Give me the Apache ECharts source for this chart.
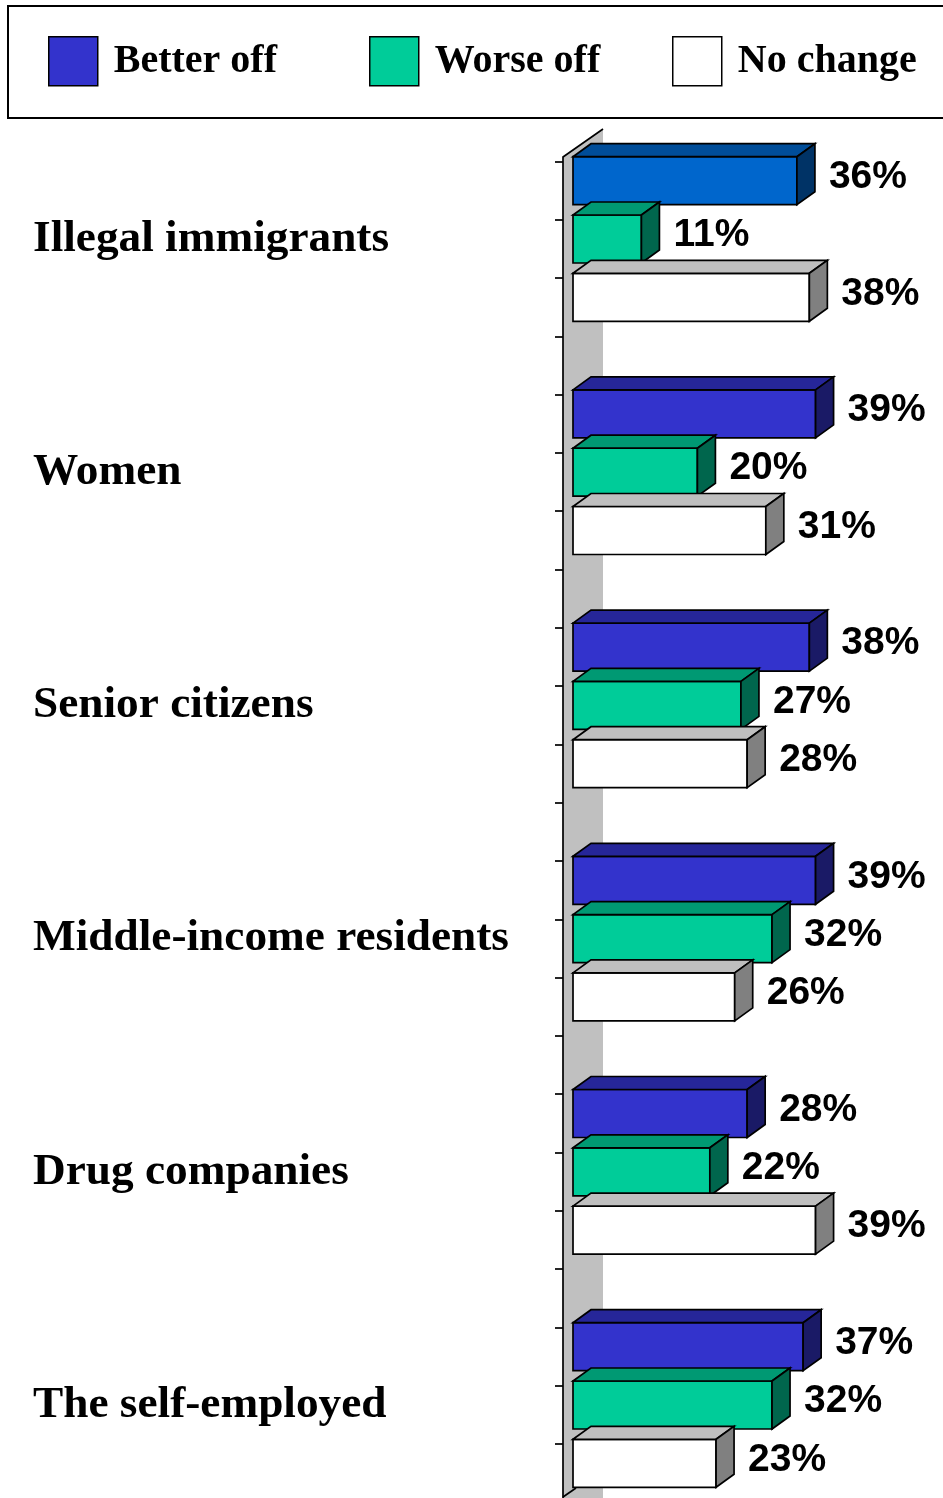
<!DOCTYPE html>
<html>
<head>
<meta charset="utf-8">
<script src="https://cdn.jsdelivr.net/npm/echarts@6/dist/echarts.min.js"></script>
<style>
  html, body { margin: 0; padding: 0; background: #ffffff; }
  #chart { width: 943px; height: 1498px; }
</style>
</head>
<body>
<div id="chart"></div>
<script>
// Survey groups and the share answering each way (percent)
const categories = [
  'Illegal immigrants',
  'Women',
  'Senior citizens',
  'Middle-income residents',
  'Drug companies',
  'The self-employed'
];
const betterOff = [36, 39, 38, 39, 28, 37];
const worseOff  = [11, 20, 27, 32, 22, 32];
const noChange  = [38, 31, 28, 26, 39, 23];
const seriesNames = ['Better off', 'Worse off', 'No change'];

const FRONT = ['#3333CC', '#00CC99', '#FFFFFF'];
const HIGHLIGHT = '#0066CC';   // first group's "better off" bar

// darken a hex colour by a factor (used for the top and side faces)
function shade(hex, f) {
  const n = parseInt(hex.slice(1), 16);
  const r = Math.round(((n >> 16) & 255) * f);
  const g = Math.round(((n >> 8) & 255) * f);
  const b = Math.round((n & 255) * f);
  return 'rgb(' + r + ',' + g + ',' + b + ')';
}

const DX = 18, DY = 13;          // depth offset of the 3D boxes
const EDGE = { stroke: '#000', lineWidth: 1.7, lineJoin: 'miter' };

function boxRenderer(slot) {
  return function (params, api) {
    const ci = api.value(1);
    const v = api.value(0);
    const p0 = api.coord([0, ci]);
    const p1 = api.coord([v, ci]);
    const band = api.size([0, 1])[1];
    const step = band / 4;
    const h = step * 0.823;
    const yc = p0[1] + (slot - 1) * step;
    const x0 = p0[0], x1 = p1[0];
    const yt = yc - h / 2, yb = yc + h / 2;
    const base = api.visual('color');
    const hex = typeof base === 'string' && base[0] === '#' ? base : FRONT[slot];
    return {
      type: 'group',
      children: [
        {
          type: 'rect',
          shape: { x: x0, y: yt, width: x1 - x0, height: h },
          style: Object.assign({ fill: hex }, EDGE)
        },
        {
          type: 'polygon',
          shape: { points: [[x0, yt], [x0 + DX, yt - DY], [x1 + DX, yt - DY], [x1, yt]] },
          style: Object.assign({ fill: shade(hex, 0.75) }, EDGE)
        },
        {
          type: 'polygon',
          shape: { points: [[x1, yt], [x1 + DX, yt - DY], [x1 + DX, yb - DY], [x1, yb]] },
          style: Object.assign({ fill: shade(hex, 0.5) }, EDGE)
        },
        {
          type: 'text',
          style: {
            text: v + '%',
            x: x1 + DX + 14,
            y: yc - DY / 2 + 3,
            verticalAlign: 'middle',
            align: 'left',
            fill: '#000',
            font: 'bold 39px "Liberation Sans", Arial, sans-serif'
          }
        }
      ]
    };
  };
}

function toData(values, slot) {
  return values.map(function (v, i) {
    if (slot === 0 && i === 0) {
      return { value: [v, i], itemStyle: { color: HIGHLIGHT } };
    }
    return [v, i];
  });
}

const legendText = {
  fontFamily: '"Liberation Serif", "Times New Roman", serif',
  fontWeight: 'bold',
  fontSize: 40,
  color: '#000',
  padding: [7, 0, 0, 11]
};
function legendAt(left, name) {
  return {
    data: [name],
    left: left,
    top: 36,
    padding: 0,
    itemWidth: 49,
    itemHeight: 49,
    icon: 'rect',
    selectedMode: false,
    itemStyle: { borderColor: '#000', borderWidth: 1.5 },
    textStyle: legendText
  };
}

const chart = echarts.init(document.getElementById('chart'), null, { renderer: 'canvas' });

chart.setOption({
  animation: false,
  backgroundColor: '#ffffff',
  legend: [
    legendAt(48, seriesNames[0]),
    legendAt(369, seriesNames[1]),
    legendAt(672, seriesNames[2])
  ],
  graphic: [
    // legend frame
    {
      type: 'rect',
      shape: { x: 8, y: 6, width: 950, height: 112 },
      style: { fill: 'none', stroke: '#000', lineWidth: 2 },
      silent: true
    },
    // side wall behind the bars
    {
      type: 'polygon',
      shape: { points: [[563, 157], [603, 129], [603, 1498], [563, 1498]] },
      style: { fill: '#C0C0C0', stroke: 'none' },
      silent: true
    },
    {
      type: 'polyline',
      shape: { points: [[563, 1500], [563, 157], [603, 129]] },
      style: { fill: 'none', stroke: '#000', lineWidth: 1.7 },
      silent: true
    },
    {
      type: 'line',
      shape: { x1: 563, y1: 1497, x2: 576, y2: 1488 },
      style: { stroke: '#000', lineWidth: 1.7 },
      silent: true
    }
  ],
  grid: [
    { left: 573, top: 122.4, width: 342.1, height: 1399.2, containLabel: false, outerBoundsMode: 'none' },
    { left: 563, top: 161.4, width: 10, height: 23 * 58.3, containLabel: false, outerBoundsMode: 'none' }
  ],
  xAxis: [
    { type: 'value', gridIndex: 0, min: 0, max: 55, show: false },
    { type: 'value', gridIndex: 1, min: 0, max: 1, show: false }
  ],
  yAxis: [
    {
      type: 'category',
      gridIndex: 0,
      data: categories,
      inverse: true,
      axisLine: { show: false },
      axisTick: { show: false },
      splitLine: { show: false },
      axisLabel: {
        align: 'left',
        margin: 540,
        color: '#000',
        fontFamily: '"Liberation Serif", "Times New Roman", serif',
        fontWeight: 'bold',
        fontSize: 45.3
      }
    },
    {
      // tick marks along the wall edge
      type: 'value',
      gridIndex: 1,
      min: 0,
      max: 23,
      interval: 1,
      inverse: true,
      axisLine: { show: false },
      axisLabel: { show: false },
      splitLine: { show: false },
      axisTick: { show: true, length: 8, lineStyle: { color: '#000', width: 1.7 } }
    }
  ],
  series: [betterOff, worseOff, noChange].map(function (vals, slot) {
    return {
      type: 'custom',
      name: seriesNames[slot],
      xAxisIndex: 0,
      yAxisIndex: 0,
      encode: { x: 0, y: 1 },
      clip: false,
      itemStyle: { color: FRONT[slot], borderColor: '#000', borderWidth: 1.5 },
      renderItem: boxRenderer(slot),
      data: toData(vals, slot)
    };
  })
});
</script>
</body>
</html>
